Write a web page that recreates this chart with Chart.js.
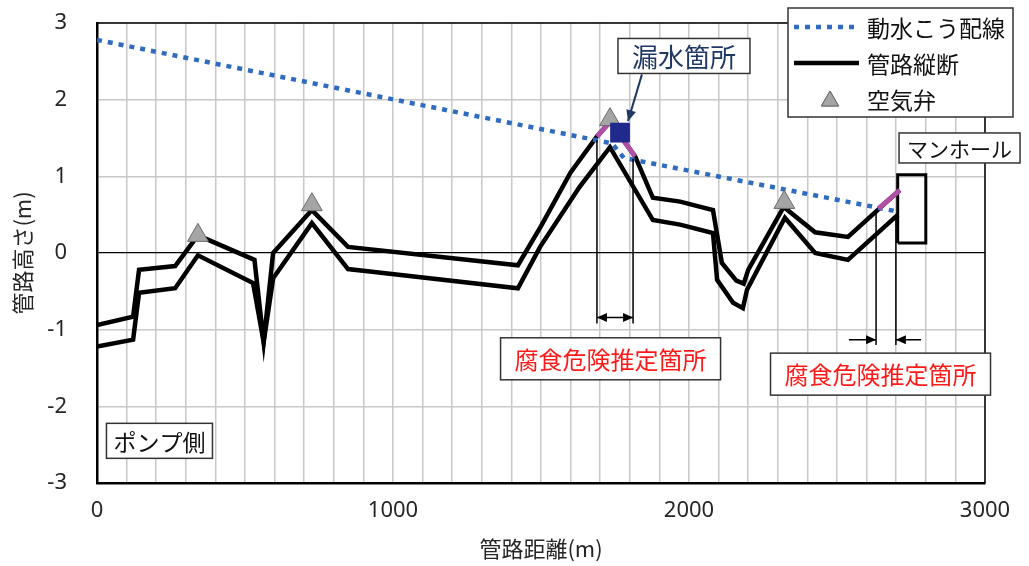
<!DOCTYPE html>
<html>
<head>
<meta charset="utf-8">
<script src="https://cdn.jsdelivr.net/npm/chart.js@4.4.1/dist/chart.umd.min.js"></script>
<style>
html, body { margin: 0; padding: 0; background: #fff; }
#wrap { width: 1029px; height: 566px; }
</style>
</head>
<body>
<div id="wrap"><canvas id="profileChart"></canvas></div>
<script>
// 管路縦断 - pipe top line
const pipeTopX = [0, 122, 142, 264, 341, 532, 563, 595, 726, 848, 1422, 1500, 1600, 1689, 1733, 1818, 1878, 1970, 2081, 2111, 2160, 2185, 2200, 2320, 2426, 2537, 2712];
const pipeTopY = [-0.94, -0.83, -0.22, -0.17, 0.23, -0.09, -1.16, 0.0, 0.56, 0.08, -0.16, 0.35, 1.05, 1.52, 1.71, 1.26, 0.72, 0.67, 0.56, -0.13, -0.36, -0.40, -0.22, 0.60, 0.27, 0.21, 0.82];

// 管路縦断 - pipe bottom line
const pipeBottomX = [0, 122, 142, 264, 341, 527, 563, 595, 726, 848, 922, 1422, 1497, 1630, 1733, 1878, 1970, 2081, 2095, 2149, 2182, 2196, 2324, 2426, 2537, 2706];
const pipeBottomY = [-1.22, -1.13, -0.52, -0.46, -0.03, -0.39, -1.16, -0.33, 0.39, -0.21, -0.24, -0.46, 0.08, 0.86, 1.38, 0.43, 0.37, 0.26, -0.35, -0.65, -0.72, -0.48, 0.46, 0.0, -0.09, 0.50];

// 動水こう配線
const gradientX = [0, 1740, 1780, 2705];
const gradientY = [2.78, 1.43, 1.24, 0.54];

// 空気弁
const valveX = [341, 726, 1733, 2322];
const valveY = [0.23, 0.63, 1.74, 0.66];

// 漏水箇所
const leakX = [1767];
const leakY = [1.57];

// corrosion-risk stretches on the pipe top
const riskSeg1X = [1689, 1733, 1818];
const riskSeg1Y = [1.52, 1.71, 1.26];
const riskSeg2X = [2640, 2712];
const riskSeg2Y = [0.58, 0.82];

// マンホール outline
const manholeX = [2705, 2800, 2800, 2705, 2705];
const manholeY = [0.13, 0.13, 1.02, 1.02, 0.13];

// 腐食危険推定箇所 markers
const riskStartX = [1689, 2632];
const riskEndX = [1811, 2699];
const riskTopStartY = [1.47, 0.56];
const riskTopEndY = [1.23, 0.50];
const riskBottomY = [-0.92, -1.20];
const riskArrowY = [-0.84, -1.13];

const xTickStep = 100;
const yTickStep = 1;

const toPoints = (xs, ys) => xs.map((x, i) => ({ x: x, y: ys[i] }));

const JP_FONT = "'Noto Sans CJK JP', 'Noto Sans', sans-serif";
Chart.defaults.font.family = "'Noto Sans', 'Noto Sans CJK JP', sans-serif";

// text boxes, in data coordinates
const notes = [
  { text: '漏水箇所', x: 1983, y: 2.57, color: '#1f3864', size: 26, h: 35, pad: 14 },
  { text: 'マンホール', x: 2914, y: 1.37, color: '#111', size: 21, h: 30, pad: 8 },
  { text: '腐食危険推定箇所', x: 1735, y: -1.38, color: '#ff1a1a', size: 24, h: 42, pad: 14 },
  { text: '腐食危険推定箇所', x: 2647, y: -1.58, color: '#ff1a1a', size: 24, h: 42, pad: 14 },
  { text: 'ポンプ側', x: 211, y: -2.45, color: '#111', size: 23, h: 35, pad: 7 }
];
const leakArrowFrom = { x: 1841, y: 2.33 };
const leakArrowTo = { x: 1794, y: 1.72 };

function arrowHead(ctx, fx, fy, tx, ty, len, half) {
  const a = Math.atan2(ty - fy, tx - fx);
  ctx.beginPath();
  ctx.moveTo(tx, ty);
  ctx.lineTo(tx - len * Math.cos(a) + half * Math.sin(a), ty - len * Math.sin(a) - half * Math.cos(a));
  ctx.lineTo(tx - len * Math.cos(a) - half * Math.sin(a), ty - len * Math.sin(a) + half * Math.cos(a));
  ctx.closePath();
  ctx.fill();
}

const annotationPlugin = {
  id: 'annotations',
  afterDatasetsDraw(chart) {
    const { ctx, chartArea, scales } = chart;
    const xs = scales.x, ys = scales.y;
    ctx.save();

    // top and right frame
    ctx.strokeStyle = '#000';
    ctx.lineWidth = 1.5;
    ctx.beginPath();
    ctx.moveTo(chartArea.left, chartArea.top);
    ctx.lineTo(chartArea.right, chartArea.top);
    ctx.lineTo(chartArea.right, chartArea.bottom);
    ctx.stroke();

    // corrosion risk markers
    ctx.strokeStyle = '#000';
    ctx.fillStyle = '#000';
    ctx.lineWidth = 1.5;
    riskStartX.forEach((sx, i) => {
      const x1 = xs.getPixelForValue(sx);
      const x2 = xs.getPixelForValue(riskEndX[i]);
      const yb = ys.getPixelForValue(riskBottomY[i]);
      const ya = ys.getPixelForValue(riskArrowY[i]);
      ctx.beginPath();
      ctx.moveTo(x1, ys.getPixelForValue(riskTopStartY[i]));
      ctx.lineTo(x1, yb);
      ctx.moveTo(x2, ys.getPixelForValue(riskTopEndY[i]));
      ctx.lineTo(x2, yb);
      ctx.stroke();
      if (i === 0) {
        ctx.beginPath();
        ctx.moveTo(x1, ya);
        ctx.lineTo(x2, ya);
        ctx.stroke();
        arrowHead(ctx, x2, ya, x1, ya, 10, 4.5);
        arrowHead(ctx, x1, ya, x2, ya, 10, 4.5);
      } else {
        const l = xs.getPixelForValue(2540);
        const r = xs.getPixelForValue(2784);
        ctx.beginPath();
        ctx.moveTo(l, ya);
        ctx.lineTo(x1, ya);
        ctx.moveTo(r, ya);
        ctx.lineTo(x2, ya);
        ctx.stroke();
        arrowHead(ctx, l, ya, x1, ya, 10, 4.5);
        arrowHead(ctx, r, ya, x2, ya, 10, 4.5);
      }
    });

    // leak arrow
    const ax1 = xs.getPixelForValue(leakArrowFrom.x), ay1 = ys.getPixelForValue(leakArrowFrom.y);
    const ax2 = xs.getPixelForValue(leakArrowTo.x), ay2 = ys.getPixelForValue(leakArrowTo.y);
    ctx.strokeStyle = '#1f3864';
    ctx.fillStyle = '#1f3864';
    ctx.lineWidth = 2;
    ctx.beginPath();
    ctx.moveTo(ax1, ay1);
    ctx.lineTo(ax2, ay2);
    ctx.stroke();
    arrowHead(ctx, ax1, ay1, ax2, ay2, 11, 5);

    // text boxes
    ctx.textAlign = 'center';
    ctx.textBaseline = 'middle';
    notes.forEach(n => {
      ctx.font = n.size + 'px ' + JP_FONT;
      const w = ctx.measureText(n.text).width + n.pad * 2;
      const cx = xs.getPixelForValue(n.x), cy = ys.getPixelForValue(n.y);
      ctx.fillStyle = '#fff';
      ctx.fillRect(cx - w / 2, cy - n.h / 2, w, n.h);
      ctx.strokeStyle = '#333';
      ctx.lineWidth = 1.5;
      ctx.strokeRect(cx - w / 2, cy - n.h / 2, w, n.h);
      ctx.fillStyle = n.color;
      ctx.fillText(n.text, cx, cy + 1);
    });

    // legend box
    const lx = 788, ly = 8, lw = 225, lh = 109;
    ctx.fillStyle = '#fff';
    ctx.fillRect(lx, ly, lw, lh);
    ctx.strokeStyle = '#333';
    ctx.lineWidth = 1.5;
    ctx.strokeRect(lx, ly, lw, lh);
    const ds = chart.data.datasets;
    const rows = [ds[3], ds[4], ds[1]];
    rows.forEach((d, i) => {
      const yy = ly + 19 + i * 36;
      ctx.save();
      if (d.showLine === false) {
        ctx.fillStyle = d.backgroundColor;
        ctx.strokeStyle = d.borderColor;
        ctx.lineWidth = 1;
        Chart.helpers.drawPoint(ctx, { pointStyle: 'triangle', radius: 10, rotation: 0, borderWidth: 1 }, 830, yy + 2);
        ctx.fill();
        ctx.stroke();
      } else {
        ctx.strokeStyle = d.borderColor;
        ctx.lineWidth = d.borderWidth;
        ctx.setLineDash(d.borderDash || []);
        ctx.beginPath();
        ctx.moveTo(794, yy);
        ctx.lineTo(859, yy);
        ctx.stroke();
      }
      ctx.restore();
      ctx.fillStyle = '#111';
      ctx.textAlign = 'left';
      ctx.font = '23px ' + JP_FONT;
      ctx.fillText(d.label, 867, yy + 1);
    });

    ctx.restore();
  }
};

const ctx = document.getElementById('profileChart').getContext('2d');
const profileChart = new Chart(ctx, {
  type: 'line',
  data: {
    datasets: [
      {
        label: '漏水箇所',
        data: toPoints(leakX, leakY),
        showLine: false,
        pointStyle: 'rect',
        pointRadius: 14,
        backgroundColor: '#1f2a8c',
        borderColor: '#1f2a8c',
        borderWidth: 0,
        order: 0
      },
      {
        label: '空気弁',
        data: toPoints(valveX, valveY),
        showLine: false,
        pointStyle: 'triangle',
        pointRadius: 12,
        backgroundColor: '#a5a5a5',
        borderColor: '#6b6b6b',
        borderWidth: 1,
        order: 1
      },
      {
        label: 'risk1',
        data: toPoints(riskSeg1X, riskSeg1Y),
        borderColor: '#b04fa3',
        borderWidth: 5,
        pointRadius: 0,
        order: 2
      },
      {
        label: '動水こう配線',
        data: toPoints(gradientX, gradientY),
        borderColor: '#2f6cc0',
        borderWidth: 4.5,
        borderDash: [5, 6],
        borderCapStyle: 'butt',
        pointRadius: 0,
        order: 3
      },
      {
        label: '管路縦断',
        data: toPoints(pipeTopX, pipeTopY),
        borderColor: '#000',
        borderWidth: 4.5,
        pointRadius: 0,
        order: 4
      },
      {
        label: '管路縦断(下)',
        data: toPoints(pipeBottomX, pipeBottomY),
        borderColor: '#000',
        borderWidth: 4.5,
        pointRadius: 0,
        order: 5
      },
      {
        label: 'risk2',
        data: toPoints(riskSeg2X, riskSeg2Y),
        borderColor: '#b04fa3',
        borderWidth: 5,
        pointRadius: 0,
        order: 2
      },
      {
        label: 'マンホール',
        data: toPoints(manholeX, manholeY),
        borderColor: '#000',
        borderWidth: 3,
        pointRadius: 0,
        order: 6
      }
    ]
  },
  options: {
    responsive: true,
    maintainAspectRatio: false,
    animation: false,
    layout: { padding: { top: 23, right: 44, left: 0, bottom: 0 } },
    plugins: {
      legend: { display: false },
      tooltip: { enabled: false }
    },
    elements: { line: { tension: 0, fill: false } },
    scales: {
      x: {
        type: 'linear',
        min: 0,
        max: 3000,
        afterFit(scale) { scale.height = 83; },
        ticks: {
          stepSize: xTickStep,
          autoSkip: false,
          maxRotation: 0,
          padding: 15,
          color: '#262626',
          font: { size: 22 },
          callback: v => (v % 1000 === 0 ? v : '')
        },
        grid: { color: '#c8c8c8', lineWidth: 1.5, drawTicks: false },
        border: { color: '#000', width: 2.5 },
        title: {
          display: true,
          text: '管路距離(m)',
          color: '#262626',
          font: { size: 22, family: JP_FONT },
          padding: { top: 4, bottom: 4 }
        }
      },
      y: {
        min: -3,
        max: 3,
        afterFit(scale) { scale.width = 97; },
        ticks: {
          stepSize: yTickStep,
          padding: 3,
          color: '#262626',
          font: { size: 22 }
        },
        grid: {
          color: c => (c.tick && c.tick.value === 0 ? '#000' : '#c8c8c8'),
          lineWidth: c => (c.tick && c.tick.value === 0 ? 1.2 : 1.5),
          drawTicks: true,
          tickLength: 27,
          tickColor: 'rgba(0,0,0,0)'
        },
        border: { color: '#000', width: 2.5 },
        title: {
          display: true,
          text: '管路高さ(m)',
          color: '#262626',
          font: { size: 22, family: JP_FONT },
          padding: { top: 9, bottom: 4 }
        }
      }
    }
  },
  plugins: [annotationPlugin]
});
</script>
</body>
</html>
